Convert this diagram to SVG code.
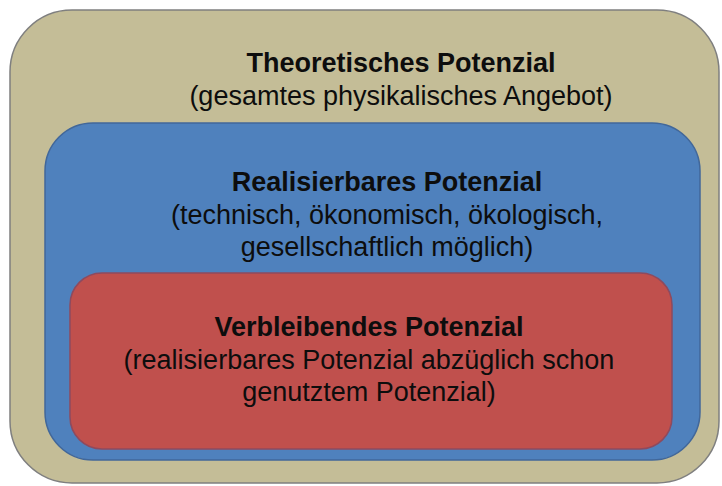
<svg xmlns="http://www.w3.org/2000/svg" width="722" height="486" viewBox="0 0 722 486">
<style>
text{font-family:"Liberation Sans",Arial,sans-serif;font-size:27px;fill:#0d0d0d;text-anchor:middle}
.b{font-weight:bold}
.box{stroke-width:1.5}
</style>
<rect width="722" height="486" fill="#ffffff"/>
<g id="theoretisch">
<rect class="box" x="10" y="10" width="709" height="473" rx="62" fill="#C4BD97" stroke="#7F7F7F"/>
<text class="b" x="401" y="72">Theoretisches Potenzial</text>
<text x="401" y="105">(gesamtes physikalisches Angebot)</text>
</g>
<g id="realisierbar">
<rect class="box" x="45" y="123" width="655" height="337" rx="48" fill="#4F81BD" stroke="#41679A"/>
<text class="b" x="387" y="191">Realisierbares Potenzial</text>
<text x="387" y="224">(technisch, ökonomisch, ökologisch,</text>
<text x="387" y="256">gesellschaftlich möglich)</text>
</g>
<g id="verbleibend">
<rect class="box" x="70" y="273" width="602" height="176" rx="32" fill="#C0504D" stroke="#8E4A5E"/>
<text class="b" x="369" y="336">Verbleibendes Potenzial</text>
<text x="369" y="369">(realisierbares Potenzial abzüglich schon</text>
<text x="369" y="401">genutztem Potenzial)</text>
</g>
<g id="connectors"/>
</svg>
